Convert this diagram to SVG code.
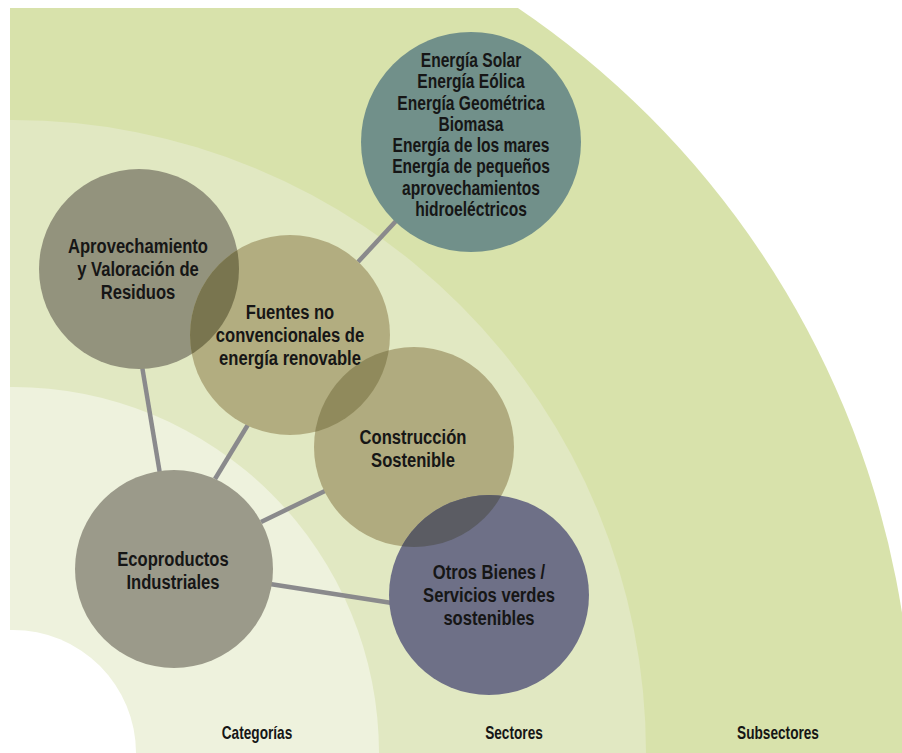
<svg xmlns="http://www.w3.org/2000/svg" width="902" height="753" viewBox="0 0 902 753">
<style>
.t{font-family:"Liberation Sans",Arial,sans-serif;font-weight:bold;font-size:21px;fill:#161616;text-anchor:middle}
.s{font-family:"Liberation Sans",Arial,sans-serif;font-weight:bold;font-size:20px;fill:#161616;text-anchor:middle}
.l{font-family:"Liberation Sans",Arial,sans-serif;font-weight:bold;font-size:17.5px;fill:#161616;text-anchor:middle}
.c{stroke:#8a8a8c;stroke-width:4.5;fill:none}
</style>
<defs>
<clipPath id="cpA"><circle cx="139" cy="269" r="100"/></clipPath>
<clipPath id="cpF"><circle cx="290" cy="335" r="100"/></clipPath>
<clipPath id="cpC"><circle cx="414" cy="447" r="100"/></clipPath>
<clipPath id="frame"><rect x="10" y="8" width="892" height="745"/></clipPath>
</defs>
<rect width="902" height="753" fill="#ffffff"/>
<g id="background" clip-path="url(#frame)">
<circle cx="13" cy="753" r="900" fill="#d8e2ab"/>
<circle cx="13" cy="753" r="633" fill="#e1e8c2"/>
<circle cx="13" cy="753" r="366" fill="#eef2dd"/>
<circle cx="13" cy="753" r="123" fill="#ffffff"/>
</g>
<g id="connectors">
<line class="c" x1="358" y1="262" x2="396" y2="221"/>
<line class="c" x1="142" y1="366" x2="160" y2="474"/>
<line class="c" x1="249" y1="423" x2="215" y2="479"/>
<line class="c" x1="327" y1="490" x2="261" y2="522"/>
<line class="c" x1="270" y1="584" x2="392" y2="603"/>
</g>
<g id="node-energias">
<circle cx="471" cy="142" r="110" fill="#71908a"/>
<g transform="translate(471,0) scale(0.78,1)">
<text class="s" x="0" y="67">Energía Solar</text>
<text class="s" x="0" y="88.3">Energía Eólica</text>
<text class="s" x="0" y="109.6">Energía Geométrica</text>
<text class="s" x="0" y="130.9">Biomasa</text>
<text class="s" x="0" y="152.2">Energía de los mares</text>
<text class="s" x="0" y="173.5">Energía de pequeños</text>
<text class="s" x="0" y="194.8">aprovechamientos</text>
<text class="s" x="0" y="216.1">hidroeléctricos</text>
</g>
</g>
<g id="node-aprovechamiento">
<circle cx="139" cy="269" r="100" fill="#93937d"/>
</g>
<g id="node-fuentes">
<circle cx="290" cy="335" r="100" fill="#b2ad80"/>
<circle cx="290" cy="335" r="100" fill="#79754f" clip-path="url(#cpA)"/>
</g>
<g id="node-construccion">
<circle cx="414" cy="447" r="100" fill="#b0ab7f"/>
<circle cx="414" cy="447" r="100" fill="#908a5c" clip-path="url(#cpF)"/>
</g>
<g id="node-otros">
<circle cx="489" cy="595" r="100" fill="#6e7087"/>
<circle cx="489" cy="595" r="100" fill="#5b5c63" clip-path="url(#cpC)"/>
</g>
<g id="node-ecoproductos">
<circle cx="174" cy="569" r="99" fill="#9b9a8a"/>
</g>
<g id="labels-nodes">
<g transform="translate(138,0) scale(0.79,1)">
<text class="t" x="0" y="253">Aprovechamiento</text>
<text class="t" x="0" y="276">y Valoración de</text>
<text class="t" x="0" y="299">Residuos</text>
</g>
<g transform="translate(290,0) scale(0.79,1)">
<text class="t" x="0" y="319">Fuentes no</text>
<text class="t" x="0" y="342">convencionales de</text>
<text class="t" x="0" y="365">energía renovable</text>
</g>
<g transform="translate(413,0) scale(0.79,1)">
<text class="t" x="0" y="444">Construcción</text>
<text class="t" x="0" y="467">Sostenible</text>
</g>
<g transform="translate(489,0) scale(0.79,1)">
<text class="t" x="0" y="579">Otros Bienes /</text>
<text class="t" x="0" y="602">Servicios verdes</text>
<text class="t" x="0" y="625">sostenibles</text>
</g>
<g transform="translate(173,0) scale(0.79,1)">
<text class="t" x="0" y="566">Ecoproductos</text>
<text class="t" x="0" y="589">Industriales</text>
</g>
</g>
<g id="band-labels">
<g transform="translate(257,0) scale(0.78,1)"><text class="l" x="0" y="739">Categorías</text></g>
<g transform="translate(514,0) scale(0.78,1)"><text class="l" x="0" y="739">Sectores</text></g>
<g transform="translate(778,0) scale(0.78,1)"><text class="l" x="0" y="739">Subsectores</text></g>
</g>
</svg>
